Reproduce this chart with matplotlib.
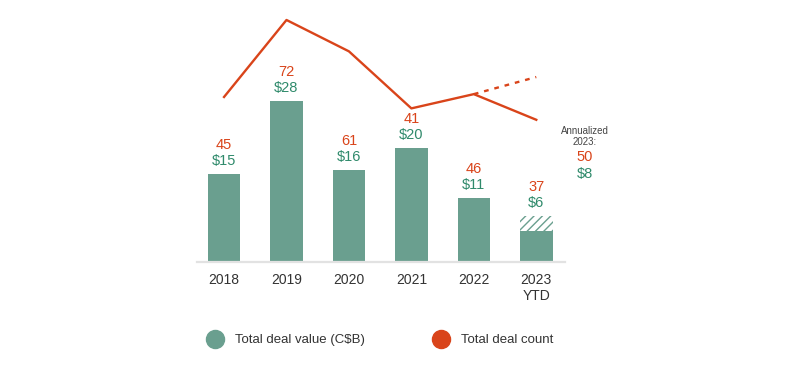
import matplotlib.pyplot as plt
from matplotlib.lines import Line2D

plt.rcParams['font.family'] = ['Liberation Sans', 'DejaVu Sans']
plt.rcParams['hatch.linewidth'] = 1.0

# data
years = ['2018', '2019', '2020', '2021', '2022', '2023\nYTD']
deal_value = [15.3, 28, 16, 19.8, 11.1, 5.4]      # C$B (bar heights)
value_labels = ['$15', '$28', '$16', '$20', '$11', '$6']
deal_count = [45, 72, 61, 41, 46, 37]
annual_value = 8     # annualized 2023
annual_count = 50

green = '#6a9f8f'
green_txt = '#2f8a6b'
orange = '#d9441a'

fig = plt.figure(figsize=(8, 3.67), dpi=100)
ax = fig.add_axes([197 / 800, 105 / 367, 368 / 800, 252 / 367])
x = list(range(len(years)))

ax.bar(x, deal_value, width=0.52, color=green, zorder=2)
# annualized part of 2023 shown hatched
ax.bar(x[-1], annual_value - deal_value[-1], bottom=deal_value[-1], width=0.52,
       color='white', edgecolor=green, hatch='////', linewidth=0, zorder=1)

for i, v in enumerate(deal_value):
    top = max(v, annual_value) if i == len(x) - 1 else v
    ax.text(i, top + 2.3, value_labels[i], ha='center', va='center', color=green_txt, fontsize=10.5)
    ax.text(i, top + 5.1, str(deal_count[i]), ha='center', va='center', color=orange, fontsize=10.5)

ax.set_xlim(-0.433, 5.46)
ax.set_ylim(0, 252 / 5.75)
ax.set_xticks(x)
ax.set_xticklabels(years, fontsize=10, color='#333333')
ax.tick_params(axis='x', length=0, pad=8)
ax.set_yticks([])
for s in ['top', 'left', 'right']:
    ax.spines[s].set_visible(False)
ax.spines['bottom'].set_color('#e2e2e2')
ax.spines['bottom'].set_linewidth(1.6)

# deal count line on its own scale
ax2 = ax.twinx()
ax2.plot(x, deal_count, color=orange, linewidth=1.7, zorder=3)
ax2.plot([x[-2], x[-1]], [deal_count[-2], annual_count + 2], color=orange,
         linewidth=1.7, linestyle=(0, (2, 2.5)))
ax2.set_ylim(-12.87, 75.5)
ax2.set_yticks([])
ax2.axis('off')

# annualized note
fig.text(585 / 800, 1 - 131 / 367, 'Annualized', ha='center', va='center', fontsize=7, color='#444444')
fig.text(585 / 800, 1 - 142 / 367, '2023:', ha='center', va='center', fontsize=7, color='#444444')
fig.text(585 / 800, 1 - 157 / 367, str(annual_count), ha='center', va='center', fontsize=10.5, color=orange)
fig.text(585 / 800, 1 - 174 / 367, '$' + str(annual_value), ha='center', va='center', fontsize=10.5, color=green_txt)

handles = [
    Line2D([], [], marker='o', linestyle='', markersize=13, color=green, label='Total deal value (C$B)'),
    Line2D([], [], marker='o', linestyle='', markersize=13, color=orange, label='Total deal count'),
]
fig.legend(handles=handles, loc='center', bbox_to_anchor=(377.5 / 800, 1 - 340 / 367), ncol=2,
           frameon=False, fontsize=9.5, handletextpad=0.5, columnspacing=4.8, labelcolor='#333333')

fig.savefig('out.png', dpi=100)
